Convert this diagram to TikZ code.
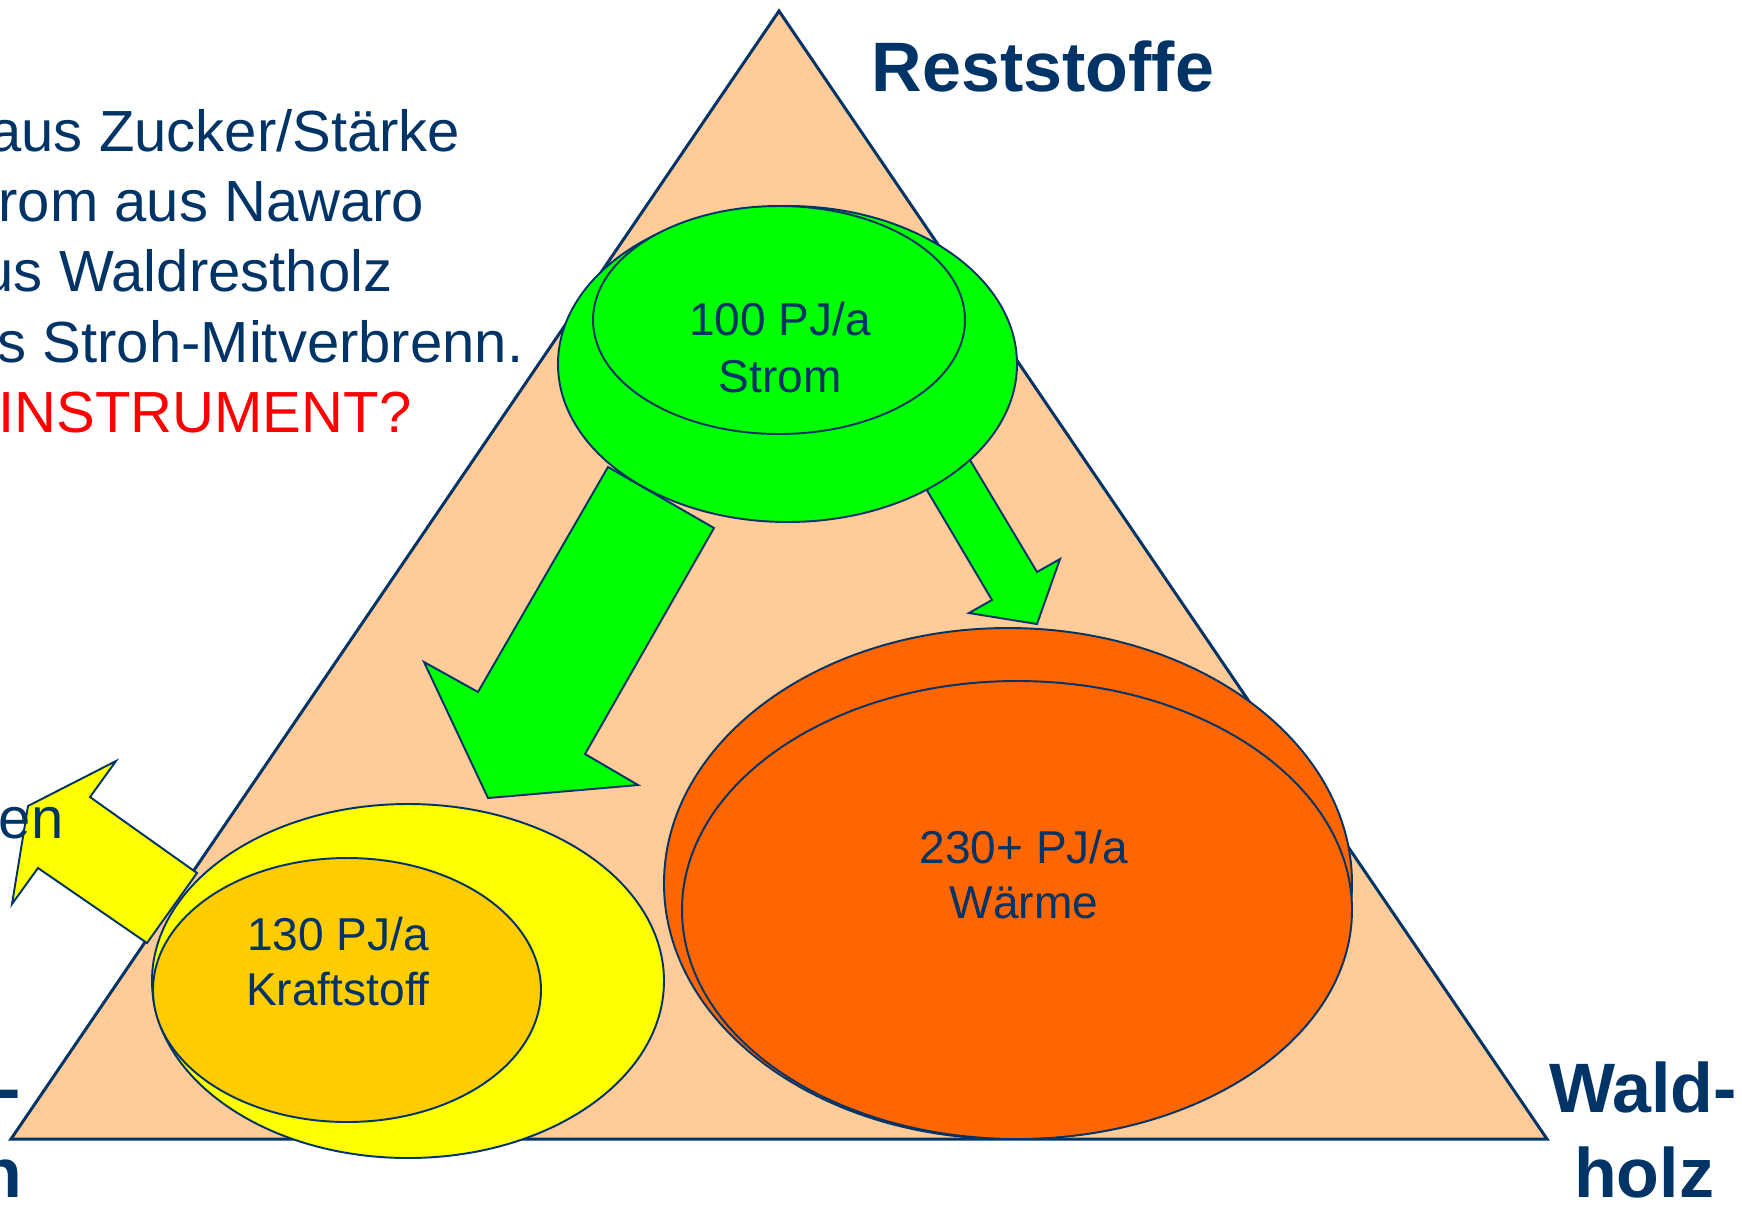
\documentclass[tikz,border=0pt]{standalone}
\usepackage{fontspec}
\setmainfont{Liberation Sans}

\definecolor{navy}{HTML}{003366}
\definecolor{peach}{HTML}{FFCC99}
\definecolor{leaf}{HTML}{00FF00}
\definecolor{sun}{HTML}{FFFF00}
\definecolor{amber}{HTML}{FFCC00}
\definecolor{heat}{HTML}{FF6600}

\tikzset{
  blob/.style={draw=navy, line width=0.55pt},
  flow/.style={draw=navy, line width=0.55pt, line join=miter},
  corner/.style={font=\bfseries\fontsize{19.9}{24}\selectfont, text=navy, inner sep=0pt, anchor=base},
  note/.style={font=\fontsize{16.5}{19.8}\selectfont, text=navy, inner sep=0pt, anchor=base east},
  amount/.style={font=\fontsize{13.1}{16}\selectfont, text=navy, inner sep=0pt, anchor=base},
}

\begin{document}
\begin{tikzpicture}[x=0.01cm, y=-0.01cm]
        \useasboundingbox (0,0) rectangle (1742,1211);

        % Notes on the left, cut by the page edge
        \node[note] (zucker) at (461,151) {aus Zucker/Stärke};
        \node[note] (nawaro) at (425,221) {rom aus Nawaro};
        \node[note] (wald) at (393,291) {us Waldrestholz};
        \node[note] (stroh) at (524,362) {s Stroh-Mitverbrenn.};
        \node[note, text=red] (instr) at (412,432) {INSTRUMENT?};
        \node[corner, anchor=base east] (dash) at (22,1112) {-};
        \node[corner, anchor=base east] (nn) at (23,1197) {n};

        % Triangle
        \draw [fill=peach, draw=navy, line width=0.85pt, line join=miter]
              (779,11) -- (1547,1139) -- (11,1139) -- cycle;

        % Strom
        \draw [flow, fill=leaf] (608,467) -- (714,528) -- (585,754) -- (638,785)
              -- (488,798) -- (424,662) -- (478,692) -- cycle;
        \draw [flow, fill=leaf] (912,465) -- (955,435) -- (1037,572) -- (1060,559)
              -- (1037,624) -- (969,613) -- (992,600) -- cycle;
        \draw [blob, fill=leaf] (787.5,364) ellipse (229.5 and 158);
        \draw [blob, fill=leaf] (779,320) ellipse (186 and 114);
        \node[amount] (strom1) at (780,335) {100 PJ/a};
        \node[amount] (strom2) at (780,392) {Strom};

        % Kraftstoff
        \draw [flow, fill=sun] (197,873) -- (147,943) -- (38,868) -- (12,904)
              -- (28,806) -- (116,761) -- (90,797) -- cycle;
        \node[note] (en) at (64,838) {en};
        \draw [blob, fill=sun] (408,981) ellipse (256 and 177);
        \draw [blob, fill=amber] (347,990) ellipse (194 and 132);
        \node[amount] (kraft1) at (338,950) {130 PJ/a};
        \node[amount] (kraft2) at (338,1005) {Kraftstoff};

        % Waerme
        \draw [blob, fill=heat] (1008,883.5) ellipse (344 and 255.5);
        \draw [blob, fill=heat] (1017,910) ellipse (335 and 229);
        \node[amount] (warm1) at (1024,863) {230+ PJ/a};
        \node[amount] (warm2) at (1024,918) {Wärme};

        % Corners
        \node[corner] (rest) at (1043,91) {Reststoffe};
        \node[corner] (wald1) at (1643,1112) {Wald-};
        \node[corner] (wald2) at (1644,1197) {holz};
\end{tikzpicture}
\end{document}
